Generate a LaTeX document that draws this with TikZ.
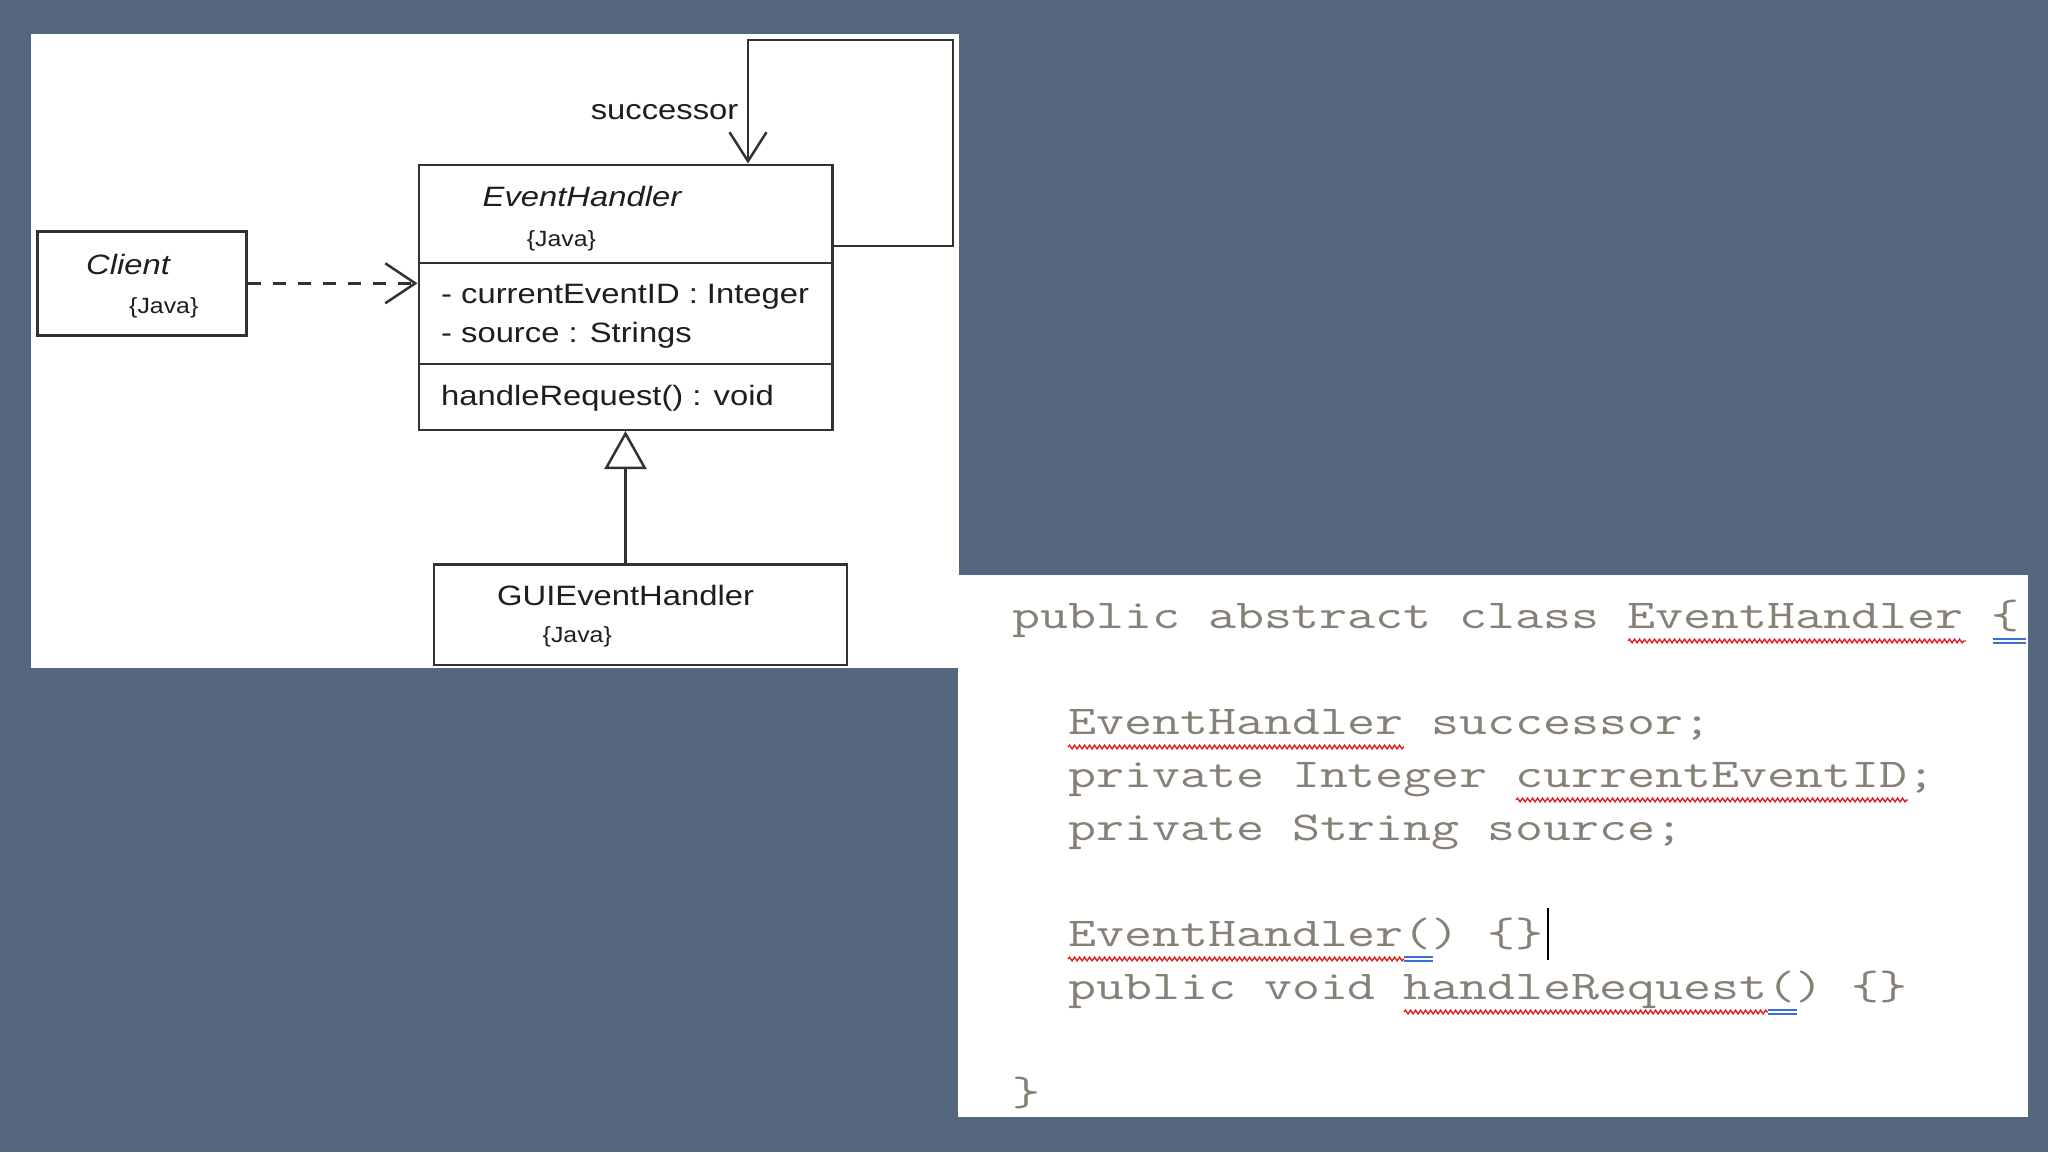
\documentclass[tikz,border=0pt]{standalone}
\usepackage{fontspec}
\setmainfont{Liberation Sans}
\usepackage{graphicx}
\usetikzlibrary{arrows.meta,calc,decorations.pathmorphing}
\definecolor{bg}{RGB}{85,102,127}
\definecolor{codegray}{RGB}{134,128,119}
\definecolor{umlline}{RGB}{50,50,50}
\definecolor{squig}{RGB}{228,30,30}
\definecolor{dblue}{RGB}{60,110,215}
\newcommand\umltext[1]{\fontsize{28}{32}\selectfont\scalebox{1.17}[1]{#1}}
\newcommand\javatext{\fontsize{22}{26}\selectfont\scalebox{1.13}[1]{\{Java\}}}
\newcommand\codetext[1]{\fontsize{41}{48}\ttfamily\selectfont\scalebox{1.325}[1]{#1}}
\begin{document}
\begin{tikzpicture}[x=1pt,y=-1pt,
  umlbox/.style={draw=umlline, line width=2.5pt, fill=white, rectangle, inner sep=0pt, anchor=north west},
  umlline/.style={draw=umlline, line width=2.5pt},
  bigtxt/.style={anchor=base west, inner sep=0pt, text={rgb,255:red,30;green,30;blue,30}},
  code/.style={anchor=base west, inner sep=0pt, text=codegray},
  wavy/.style={draw=squig, line width=1.4pt, decorate, decoration={snake, amplitude=1.8pt, segment length=5pt}},
  dbl/.style={draw=dblue, line width=1.3pt}]
\fill[bg] (0,0) rectangle (2048,1152);
\useasboundingbox (0,0) rectangle (2048,1152);
% panels
\fill[white] (31,34) rectangle (959,668);
\fill[white] (958,575) rectangle (2028,1117);

% UML boxes
\node[umlbox, minimum width=209pt, minimum height=104pt] (client) at (36,230) {};
\node[umlbox, minimum width=413.5pt, minimum height=265pt] (eh) at (417.5,163.5) {};
\node[umlbox, minimum width=413pt, minimum height=100.5pt] (gui) at (432.5,563) {};
\draw[umlline] ($(eh.north west)+(0,99.5)$) -- ($(eh.north east)+(0,99.5)$);
\draw[umlline] ($(eh.north west)+(0,200.5)$) -- ($(eh.north east)+(0,200.5)$);

% texts
\node[bigtxt] (tclient) at (86,274) {\umltext{\itshape Client}};
\node[bigtxt] (tcjava) at (129,313) {\javatext};
\node[bigtxt] (tehname) at (482.5,206) {\umltext{\itshape EventHandler}};
\node[bigtxt] (tehjava) at (526.6,246) {\javatext};
\node[bigtxt] (tattr1) at (441,303) {\umltext{- currentEventID : Integer}};
\node[bigtxt] (tattr2) at (441,342) {\umltext{- source : Strings}};
\node[bigtxt] (tmeth) at (441,405) {\umltext{handleRequest() : void}};
\node[bigtxt] (tgui) at (497,605) {\umltext{GUIEventHandler}};
\node[bigtxt] (tguijava) at (542.5,642) {\javatext};
\node[bigtxt] (tsucc) at (590.6,119) {\umltext{successor}};

% connectors
\draw[umlline, dash pattern=on 13pt off 12pt, -{Straight Barb[length=30pt, width=40pt]}]
  (client.east) -- (client.east -| eh.west);
\coordinate (loopstart) at ($(eh.north east)+(0,82.5)$);
\coordinate (rt) at (953,40);
\coordinate (lt) at (748,40);
\draw[umlline, line join=miter, -{Straight Barb[length=29pt, width=37pt]}]
  (loopstart) -| (rt) -- (lt) -- (lt |- eh.north);
\draw[umlline, -{Triangle[open, length=38pt, width=42pt, fill=white]}]
  (eh.south |- gui.north) -- (eh.south);

% code
\node[code] (c0) at (1012,628) {\codetext{public abstract class EventHandler \{}};
\node[code] (c2) at (1068,734) {\codetext{EventHandler successor;}};
\node[code] (c3) at (1068,787) {\codetext{private Integer currentEventID;}};
\node[code] (c4) at (1068,840) {\codetext{private String source;}};
\node[code] (c6) at (1068,946) {\codetext{EventHandler() \{\}}};
\node[code] (c7) at (1068,999) {\codetext{public void handleRequest() \{\}}};
\node[code] (c9) at (1012,1105) {\codetext{\}}};

% spell-check underlines
\draw[wavy] (1628,641) -- (1966,641);
\draw[dbl] (1993,639) -- (2026,639) (1993,643) -- (2026,643);
\draw[wavy] (1068,747) -- (1404,747);
\draw[wavy] (1516,800) -- (1908,800);
\draw[wavy] (1068,959) -- (1404,959);
\draw[dbl] (1404,957) -- (1433,957) (1404,961) -- (1433,961);
\draw[wavy] (1404,1012) -- (1768,1012);
\draw[dbl] (1768,1010) -- (1797,1010) (1768,1014) -- (1797,1014);
% text cursor
\draw[black, line width=1.6pt] (1548,908) -- (1548,960);
\end{tikzpicture}
\end{document}
